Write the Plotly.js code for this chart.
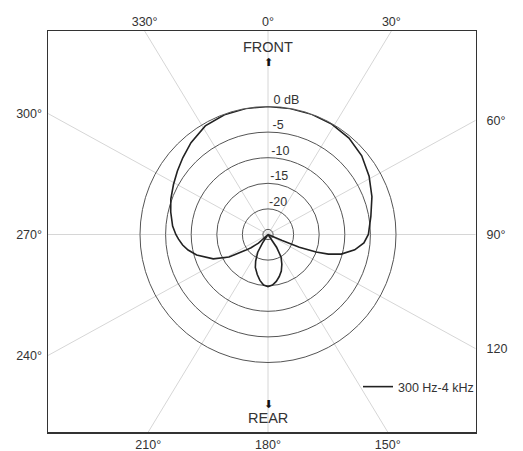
<!DOCTYPE html>
<html><head><meta charset="utf-8">
<script src="https://cdn.plot.ly/plotly-3.0.1.min.js"></script>
<style>html,body{margin:0;padding:0;background:#fff}#chart{width:523px;height:451px}</style>
</head><body><div id="chart"></div>
<script>
// ---- data (angle clockwise from FRONT, level in dB) ----
const patternAngles = [0, 10, 20, 30, 40, 50, 60, 70, 80, 90, 95, 100, 105, 108, 110, 112, 113, 115, 140, 146, 150, 155, 160, 165, 170, 175, 180, 185, 190, 195, 201, 205, 210, 213, 216, 226, 228, 232, 235, 240, 246, 254, 259, 263, 267, 270, 275, 283, 290, 298, 305, 312, 320, 330, 340, 350, 360];
const patternDb     = [0, 0, 0, -0.1, -0.4, -1.1, -2.2, -3.4, -4.6, -5.4, -6.2, -7.8, -10.2, -12.6, -15.0, -18.4, -22, -25, -25, -22, -19.9, -18.6, -17.4, -16.5, -15.7, -15.1, -14.8, -15.1, -15.9, -16.9, -18.1, -19.3, -21, -23, -25, -25, -22.5, -20.8, -19.6, -16.2, -13.3, -10.5, -9.1, -8.2, -7.5, -7.0, -6.3, -5.5, -4.8, -4.1, -3.4, -2.6, -1.6, -0.5, -0.1, 0, 0];
const seriesName = "300 Hz-4 kHz";
const ringValues = [-24, -20, -15, -10, -5];
const ringLabelValues = [0, -5, -10, -15, -20];
const ringLabels = ["0 dB", "-5", "-10", "-15", "-20"];
const spokeAngles = [0, 30, 60, 90, 120, 150, 180, 210, 240, 270, 300, 330];
const topAngles = [330, 0, 30],   topLabels = ["330°", "0°", "30°"];
const bottomAngles = [210, 180, 150], bottomLabels = ["210°", "180°", "150°"];
const leftAngles = [300, 270, 240], leftLabels = ["300°", "270°", "240°"];
const rightAngles = [60, 90, 120], rightLabels = ["60°", "90°", "120"];

// ---- layout geometry (pixels) ----
const W = 523, H = 451;
const CX = 268, CY = 234.5, R0 = 128, STRETCH = 1.05;
const FL = 48, FR = 475.5, FT = 31, FB = 432;
const rad = d => d * Math.PI / 180;
const xr = [(FL - CX) / STRETCH, (FR - CX) / STRETCH];
const yr = [CY - FB, CY - FT];

const fam = "Liberation Sans, Arial, Helvetica, sans-serif";
const font = {family: fam, size: 12.5, color: "#333"};

// spokes through the centre, clipped by the frame; split over the two overlaid cartesian subplots
function spokes(list) {
  const x = [], y = [];
  list.forEach(a => { x.push(0, 2000 * Math.sin(rad(a)), null); y.push(0, 2000 * Math.cos(rad(a)), null); });
  return {x, y};
}
const s1 = spokes(spokeAngles.filter(a => a < 180));
const s2 = spokes(spokeAngles.filter(a => a >= 180));

const traces = [
  {type: "scatter", x: s1.x, y: s1.y, mode: "lines", line: {color: "#d6d6d6", width: 1},
   hoverinfo: "skip", showlegend: false, xaxis: "x", yaxis: "y"},
  {type: "scatter", x: s2.x, y: s2.y, mode: "lines", line: {color: "#d6d6d6", width: 1},
   hoverinfo: "skip", showlegend: false, xaxis: "x2", yaxis: "y2"},
  {type: "scatterpolar", r: patternDb, theta: patternAngles, mode: "lines", name: seriesName,
   line: {color: "#222", width: 1.6}, subplot: "polar"},
  {type: "scatterpolar", r: ringLabelValues, theta: ringLabelValues.map(() => 2.5), mode: "text",
   text: ringLabels, textposition: "top right", textfont: {family: fam, size: 12.5, color: "#333"},
   cliponaxis: false, showlegend: false, hoverinfo: "skip", subplot: "polar"}
];

const axisCommon = {showgrid: false, zeroline: false, ticks: "", fixedrange: true,
  tickfont: font, tickmode: "array"};

const layout = {
  width: W, height: H, margin: {l: 0, r: 0, t: 0, b: 0},
  paper_bgcolor: "#fff", plot_bgcolor: "rgba(0,0,0,0)", font: font,
  xaxis: Object.assign({}, axisCommon, {domain: [FL / W, FR / W], range: xr, anchor: "y",
    showline: true, mirror: true, linecolor: "#333", linewidth: 1.5,
    tickvals: bottomAngles.map(a => yr[0] * Math.tan(rad(a))), ticktext: bottomLabels, ticklabelstandoff: 0}),
  xaxis2: Object.assign({}, axisCommon, {overlaying: "x", side: "top", anchor: "y2", range: xr,
    tickvals: topAngles.map(a => yr[1] * Math.tan(rad(a))), ticktext: topLabels, ticklabelstandoff: 2}),
  yaxis: Object.assign({}, axisCommon, {domain: [(H - FB) / H, (H - FT) / H], range: yr, anchor: "x",
    showline: true, mirror: true, linecolor: "#333", linewidth: 1.5,
    tickvals: leftAngles.map(a => xr[0] / Math.tan(rad(a))), ticktext: leftLabels, ticklabelstandoff: 2}),
  yaxis2: Object.assign({}, axisCommon, {overlaying: "y", side: "right", anchor: "x2", range: yr,
    tickvals: rightAngles.map(a => xr[1] / Math.tan(rad(a))), ticktext: rightLabels, ticklabelstandoff: 10}),
  polar: {
    domain: {x: [(CX - R0) / W, (CX + R0) / W], y: [(H - CY - R0) / H, (H - CY + R0) / H]},
    bgcolor: "rgba(0,0,0,0)",
    radialaxis: {range: [-25, 0], tickmode: "array", tickvals: ringValues, showticklabels: false, ticks: "",
      showline: false, gridcolor: "#555", gridwidth: 1, angle: 90},
    angularaxis: {rotation: 90, direction: "clockwise", showgrid: false, showticklabels: false, ticks: "",
      showline: true, linecolor: "#555", linewidth: 1}
  },
  showlegend: true,
  legend: {x: 358 / W, y: 1 - 372 / H, xanchor: "left", yanchor: "top", bgcolor: "rgba(0,0,0,0)",
    borderwidth: 0, itemwidth: 30, font: {family: fam, size: 12.5, color: "#333"}},
  annotations: [
    {xref: "x", yref: "y", x: 0, y: CY - 47, text: "FRONT", showarrow: false, font: {family: fam, size: 14.5, color: "#333"}},
    {xref: "x", yref: "y", x: 0, y: CY - 62, text: "⬆", showarrow: false, font: {family: "DejaVu Sans", size: 11, color: "#111"}},
    {xref: "x", yref: "y", x: 0, y: CY - 404, text: "⬇", showarrow: false, font: {family: "DejaVu Sans", size: 11, color: "#111"}},
    {xref: "x", yref: "y", x: 0, y: CY - 418, text: "REAR", showarrow: false, font: {family: fam, size: 14.5, color: "#333"}}
  ]
};

Plotly.newPlot("chart", traces, layout, {staticPlot: true, displayModeBar: false});
</script>
</body></html>
